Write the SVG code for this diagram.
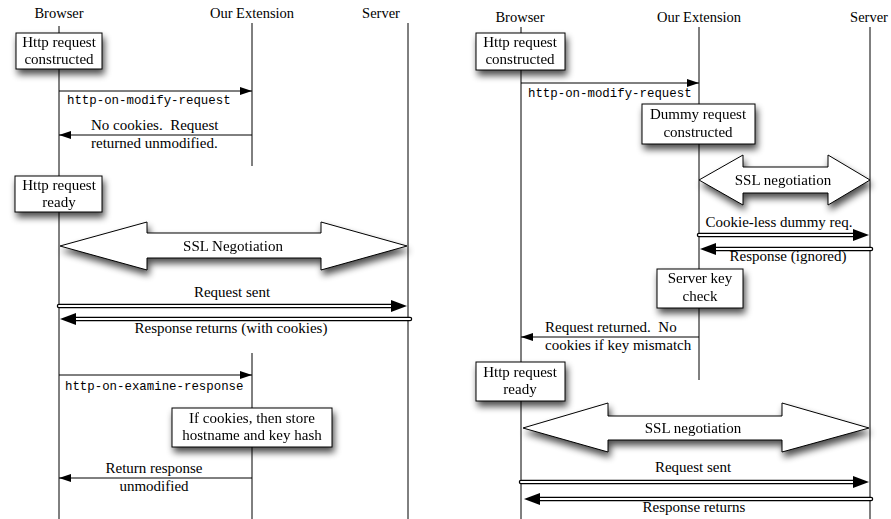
<svg xmlns="http://www.w3.org/2000/svg" width="891" height="519" viewBox="0 0 891 519">
<style>
text{font-family:"Liberation Serif","Times New Roman",serif;font-size:15px;fill:#000}
.hd{font-size:14.5px;text-anchor:middle}
.c{text-anchor:middle}
.mono{font-family:"Liberation Mono","Courier New",monospace;font-size:12.4px}
.life{stroke:#000;stroke-width:1;fill:none}
.box{fill:#fff;stroke:#000;stroke-width:1}
.arr{stroke:#000;stroke-width:1;fill:none;marker-end:url(#ah)}
.dbo{stroke:#000;stroke-width:4.5;stroke-linecap:round;fill:none}
.dbi{stroke:#fff;stroke-width:2;stroke-linecap:round;fill:none}
.hd2{fill:#000}
.big{fill:#fff;stroke:#000;stroke-width:1}
</style>
<defs>
<marker id="ah" markerUnits="userSpaceOnUse" markerWidth="12" markerHeight="8" refX="12" refY="4" orient="auto">
<path d="M0,0 L12,4 L0,8 z" fill="#000"/>
</marker>
<filter id="sh" x="-20%" y="-30%" width="150%" height="190%">
<feGaussianBlur in="SourceAlpha" stdDeviation="3.5"/>
<feOffset dx="2" dy="5"/>
<feComponentTransfer><feFuncA type="linear" slope="0.7"/></feComponentTransfer>
<feMerge><feMergeNode/><feMergeNode in="SourceGraphic"/></feMerge>
</filter>
</defs>

<g id="lifelines">
<line class="life" x1="59" y1="26" x2="59" y2="519"/>
<line class="life" x1="252" y1="23" x2="252" y2="166"/>
<line class="life" x1="252" y1="353" x2="252" y2="519"/>
<line class="life" x1="408" y1="23" x2="408" y2="519"/>
<line class="life" x1="521" y1="27" x2="521" y2="519"/>
<line class="life" x1="699" y1="27" x2="699" y2="380"/>
<line class="life" x1="870" y1="27" x2="870" y2="519"/>
</g>

<g id="headers">
<text class="hd" x="59" y="18">Browser</text>
<text class="hd" x="252" y="18">Our Extension</text>
<text class="hd" x="381" y="18">Server</text>
<text class="hd" x="520" y="22">Browser</text>
<text class="hd" x="699" y="22">Our Extension</text>
<text class="hd" x="869" y="22">Server</text>
</g>

<g id="connectors">
<line class="arr" x1="59" y1="91" x2="252" y2="91"/>
<line class="arr" x1="252" y1="135" x2="59" y2="135"/>
<line class="arr" x1="59" y1="375" x2="252" y2="375"/>
<line class="arr" x1="252" y1="478" x2="59" y2="478"/>
<line class="arr" x1="521" y1="83" x2="699" y2="83"/>
<line class="arr" x1="699" y1="337" x2="521" y2="337"/>

<line class="dbo" x1="59" y1="306" x2="392" y2="306"/>
<line class="dbi" x1="59" y1="306" x2="393" y2="306"/>
<path class="hd2" d="M391,300 L407,306 L391,312 z"/>
<line class="dbo" x1="410" y1="319" x2="76" y2="319"/>
<line class="dbi" x1="410" y1="319" x2="75" y2="319"/>
<path class="hd2" d="M76,313 L60,319 L76,325 z"/>

<line class="dbo" x1="699" y1="235" x2="854" y2="235"/>
<line class="dbi" x1="699" y1="235" x2="855" y2="235"/>
<path class="hd2" d="M853,229 L869,235 L853,241 z"/>
<line class="dbo" x1="871" y1="249" x2="716" y2="249"/>
<line class="dbi" x1="871" y1="249" x2="715" y2="249"/>
<path class="hd2" d="M716,243 L700,249 L716,255 z"/>

<line class="dbo" x1="521" y1="482" x2="854" y2="482"/>
<line class="dbi" x1="521" y1="482" x2="855" y2="482"/>
<path class="hd2" d="M853,476 L869,482 L853,488 z"/>
<line class="dbo" x1="871" y1="499" x2="540" y2="499"/>
<line class="dbi" x1="871" y1="499" x2="539" y2="499"/>
<path class="hd2" d="M540,493 L524,499 L540,505 z"/>
</g>

<g id="labels">
<text class="mono" x="67" y="104">http-on-modify-request</text>
<text x="91" y="130" xml:space="preserve">No cookies.  Request</text>
<text x="91" y="148">returned unmodified.</text>
<text class="c" x="232" y="297">Request sent</text>
<text class="c" x="231" y="333">Response returns (with cookies)</text>
<text class="mono" x="65" y="390">http-on-examine-response</text>
<text class="c" x="154" y="473">Return response</text>
<text class="c" x="154" y="491">unmodified</text>
<text class="mono" x="528" y="97">http-on-modify-request</text>
<text class="c" x="779" y="227">Cookie-less dummy req.</text>
<text class="c" x="788" y="261">Response (ignored)</text>
<text x="545" y="332" xml:space="preserve">Request returned.  No</text>
<text x="545" y="350">cookies if key mismatch</text>
<text class="c" x="693" y="472">Request sent</text>
<text class="c" x="694" y="512">Response returns</text>
</g>

<g id="ssl-left" filter="url(#sh)">
<path class="big" d="M60,246 L147,222 L147,233 L321,233 L321,222 L407,246 L321,270 L321,258 L147,258 L147,270 z"/>
<text class="c" x="233" y="251">SSL Negotiation</text>
</g>
<g id="ssl-right-top" filter="url(#sh)">
<path class="big" d="M699,180 L743,155 L743,167 L828,167 L828,155 L870,180 L828,205 L828,193 L743,193 L743,205 z"/>
<text class="c" x="783" y="185">SSL negotiation</text>
</g>
<g id="ssl-right-bottom" filter="url(#sh)">
<path class="big" d="M523,428 L608,403 L608,416 L782,416 L782,403 L869,428 L782,452 L782,440 L608,440 L608,452 z"/>
<text class="c" x="693" y="433">SSL negotiation</text>
</g>

<g id="box-l-constructed" filter="url(#sh)">
<rect class="box" x="16" y="33" width="86" height="36"/>
<text class="c" x="59" y="47">Http request</text>
<text class="c" x="59" y="64">constructed</text>
</g>
<g id="box-l-ready" filter="url(#sh)">
<rect class="box" x="15" y="176" width="87" height="36"/>
<text class="c" x="59" y="190">Http request</text>
<text class="c" x="59" y="207">ready</text>
</g>
<g id="box-l-store" filter="url(#sh)">
<rect class="box" x="172" y="408" width="160" height="39"/>
<text class="c" x="252" y="423">If cookies, then store</text>
<text class="c" x="252" y="440">hostname and key hash</text>
</g>
<g id="box-r-constructed" filter="url(#sh)">
<rect class="box" x="476" y="33" width="89" height="37"/>
<text class="c" x="520" y="47">Http request</text>
<text class="c" x="520" y="64">constructed</text>
</g>
<g id="box-r-dummy" filter="url(#sh)">
<rect class="box" x="642" y="104" width="113" height="40"/>
<text class="c" x="698" y="119">Dummy request</text>
<text class="c" x="698" y="137">constructed</text>
</g>
<g id="box-r-keycheck" filter="url(#sh)">
<rect class="box" x="657" y="269" width="86" height="39"/>
<text class="c" x="700" y="283">Server key</text>
<text class="c" x="700" y="301">check</text>
</g>
<g id="box-r-ready" filter="url(#sh)">
<rect class="box" x="476" y="362" width="89" height="39"/>
<text class="c" x="520" y="377">Http request</text>
<text class="c" x="520" y="394">ready</text>
</g>
</svg>
